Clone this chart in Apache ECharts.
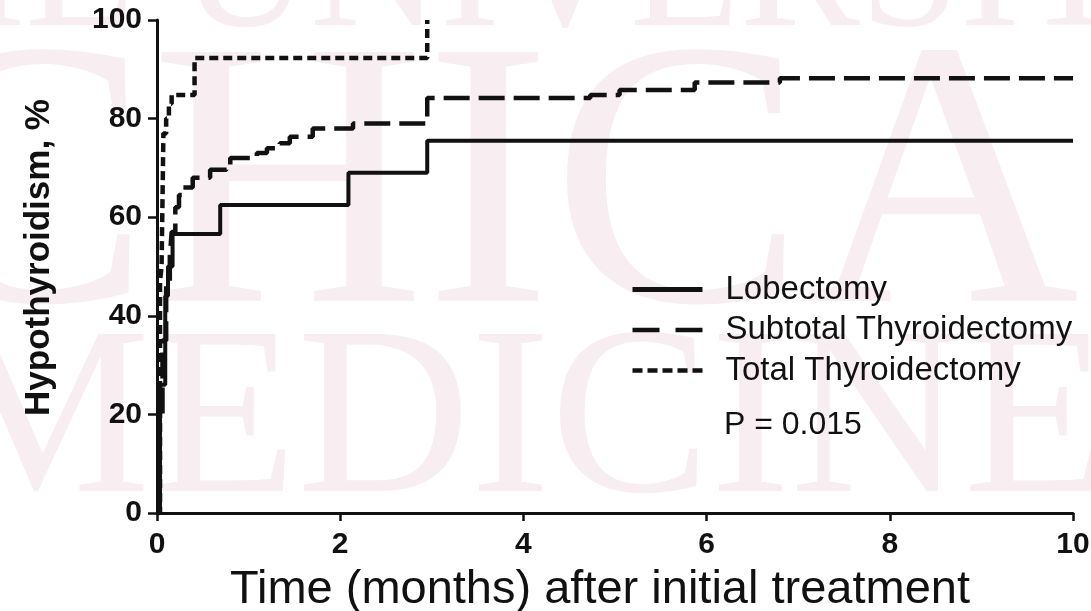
<!DOCTYPE html>
<html><head><meta charset="utf-8">
<script src="https://cdn.jsdelivr.net/npm/echarts@6/dist/echarts.min.js"></script>
<style>html,body{margin:0;padding:0;background:#fff}#c{width:1091px;height:611px}</style>
</head><body><div id="c"></div>
<script>
// Data: [months, % hypothyroid], Kaplan-Meier steps
const seriesNames = ['Lobectomy', 'Subtotal Thyroidectomy', 'Total Thyroidectomy'];
const lobectomy = [[0,0],[0.033,26],[0.09,44],[0.12,50],[0.17,56.6],[0.69,62.5],[2.09,69],[2.95,75.5],[10,75.5]];
const subtotal = [[0,0],[0.03,20],[0.06,35],[0.1,47],[0.14,52],[0.16,57],[0.2,62],[0.24,64.5],[0.28,66],[0.39,68],[0.58,69.6],[0.76,70.6],[0.8,72],[1.09,73],[1.2,74],[1.34,75],[1.45,76.3],[1.7,78],[2.14,79],[2.95,84.2],[4.73,84.8],[5.05,85.8],[5.87,87.3],[6.8,88.2],[10,88.2]];
const total = [[0,0],[0.033,47],[0.05,50],[0.07,77],[0.1,80],[0.13,83],[0.16,84.8],[0.41,92.3],[2.95,100]];
const pValueText = 'P = 0.015';
const xAxisTitle = 'Time (months) after initial treatment';
const yAxisTitle = 'Hypothyroidism, %';

const FONT = '"Liberation Sans", Arial, Helvetica, sans-serif';
const WM = '#f8edf0';
const INK = '#111';
const chart = echarts.init(document.getElementById('c'), null, {renderer: 'canvas'});
const lineBase = {type: 'line', step: 'end', symbol: 'none', showSymbol: false, animation: false, z: 5};
chart.setOption({
  backgroundColor: '#ffffff',
  animation: false,
  grid: {left: 157, right: 18, top: 20, bottom: 98, containLabel: false, outerBoundsMode: 'none'},
  xAxis: {
    type: 'value', min: 0, max: 10, interval: 2,
    name: xAxisTitle, nameLocation: 'middle', nameGap: 54,
    nameTextStyle: {fontFamily: FONT, fontSize: 47, color: INK, padding: [0, 30, 0, 0]},
    axisLine: {show: true, onZero: false, lineStyle: {color: INK, width: 3}},
    axisTick: {show: true, length: 8, lineStyle: {color: INK, width: 2.5}},
    axisLabel: {fontFamily: FONT, fontSize: 30, fontWeight: 'bold', color: INK, margin: 17},
    splitLine: {show: false}
  },
  yAxis: {
    type: 'value', min: 0, max: 100, interval: 20,
    name: yAxisTitle, nameLocation: 'middle', nameGap: 100,
    nameTextStyle: {fontFamily: FONT, fontSize: 35, fontWeight: 'bold', color: INK, padding: [0, 0, 0, 18]},
    axisLine: {show: true, lineStyle: {color: INK, width: 3}},
    axisTick: {show: true, length: 9, lineStyle: {color: INK, width: 2.5}},
    axisLabel: {fontFamily: FONT, fontSize: 30, fontWeight: 'bold', color: INK, margin: 15},
    splitLine: {show: false}
  },
  legend: {
    orient: 'vertical', left: 625, top: 268,
    itemWidth: 70, itemHeight: 32, itemGap: 7.5,
    itemStyle: {opacity: 0},
    textStyle: {fontFamily: FONT, fontSize: 33, color: INK, padding: [0, 0, 0, 18]},
    data: [
      {name: seriesNames[0], itemStyle: {opacity: 0}, lineStyle: {width: 5, type: 'solid', color: INK}},
      {name: seriesNames[1], itemStyle: {opacity: 0}, lineStyle: {width: 4.5, type: [27, 16], color: INK}},
      {name: seriesNames[2], itemStyle: {opacity: 0}, lineStyle: {width: 4.5, type: [10, 5], color: INK}}
    ]
  },
  series: [
    Object.assign({}, lineBase, {name: seriesNames[0], data: lobectomy,
      lineStyle: {color: INK, width: 4, type: 'solid', cap: 'butt'}, itemStyle: {color: INK}}),
    Object.assign({}, lineBase, {name: seriesNames[1], data: subtotal,
      lineStyle: {color: INK, width: 4.5, type: [26, 9], cap: 'butt'}, itemStyle: {color: INK}}),
    Object.assign({}, lineBase, {name: seriesNames[2], data: total,
      lineStyle: {color: INK, width: 4.5, type: [9, 5], cap: 'butt'}, itemStyle: {color: INK}})
  ],
  graphic: [
    {type: 'text', silent: true, z: -10, style: {text: 'THE UNIVERSITY OF', x: -215, y: -22, textVerticalAlign: 'middle', font: '180px "Liberation Serif", "DejaVu Serif", serif', fill: WM}},
    {type: 'text', silent: true, z: -10, style: {text: 'CHICAGO', x: -103, y: 201, textVerticalAlign: 'middle', font: '380px "Liberation Serif", "DejaVu Serif", serif', fill: WM}},
    {type: 'text', silent: true, z: -10, style: {text: 'MEDICINE', x: -63, y: 428, textVerticalAlign: 'middle', font: '240px "Liberation Serif", "DejaVu Serif", serif', fill: WM}},
    {type: 'text', z: 10, style: {text: pValueText, x: 724, y: 425, textVerticalAlign: 'middle', font: '32px ' + FONT, fill: INK}}
  ]
});
</script></body></html>
